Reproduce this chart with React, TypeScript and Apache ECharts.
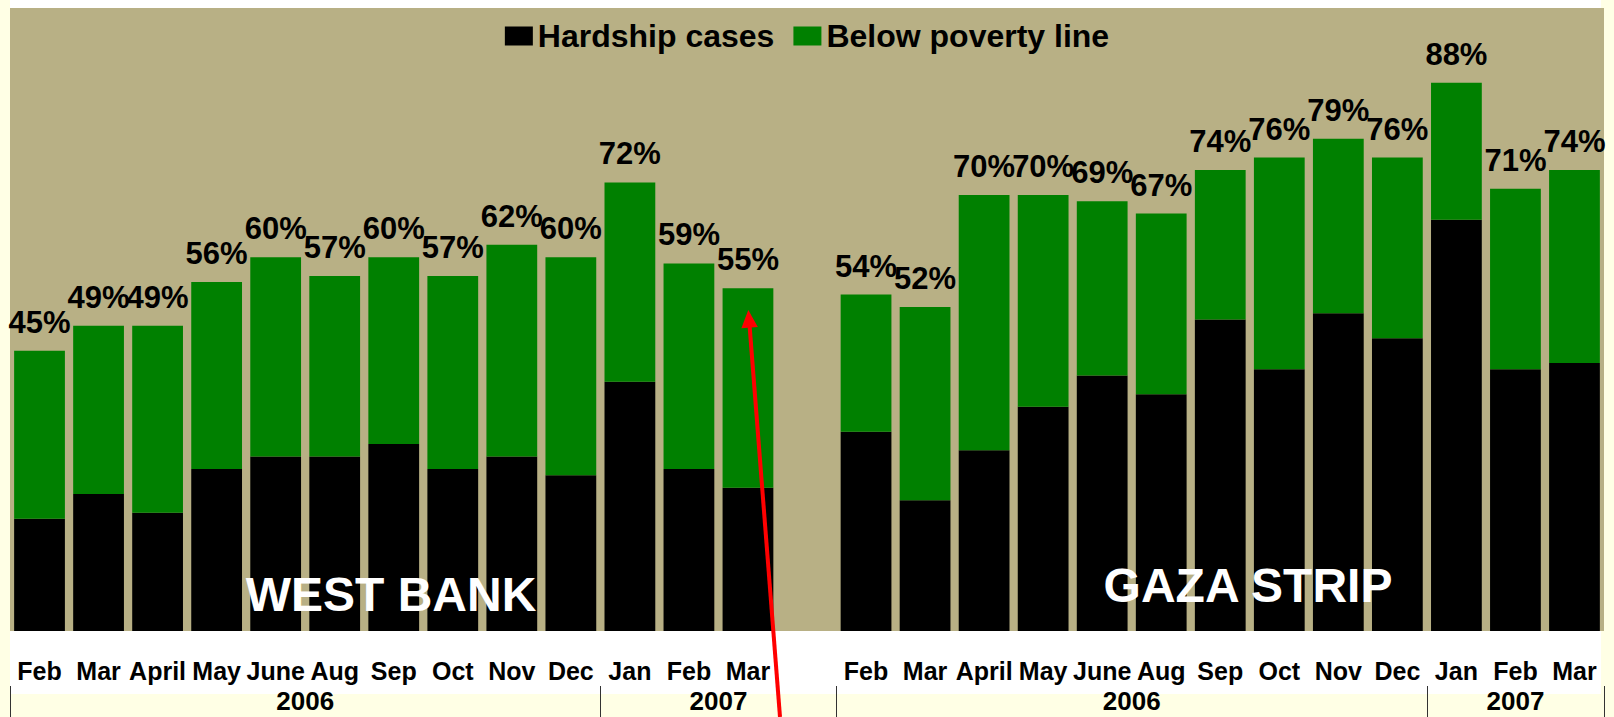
import React, { useEffect, useRef } from 'react';
import * as echarts from 'echarts';

const months = ['Feb', 'Mar', 'April', 'May', 'June', 'Aug', 'Sep', 'Oct', 'Nov', 'Dec', 'Jan', 'Feb', 'Mar'];
const westBankHardship = [18, 22, 19, 26, 28, 28, 30, 26, 28, 25, 40, 26, 23];
const westBankTotal = [45, 49, 49, 56, 60, 57, 60, 57, 62, 60, 72, 59, 55];
const gazaHardship = [32, 21, 29, 36, 41, 38, 50, 42, 51, 47, 66, 42, 43];
const gazaTotal = [54, 52, 70, 70, 69, 67, 74, 76, 79, 76, 88, 71, 74];
const yearLabels = ['2006', '2007', '2006', '2007'];
const yearSpans = [10, 4, 10, 3];
const seriesNames = ['Hardship cases', 'Below poverty line'];

const FONT = '"Liberation Sans", Arial, Helvetica, sans-serif';

export default function App() {
  const ref = useRef<HTMLDivElement>(null);

  useEffect(() => {
    if (!ref.current) return;
    const chart = echarts.init(ref.current, null, { renderer: 'svg' });

    const categories = [...months, '', ...months];
    const hardship: any[] = [...westBankHardship, '-', ...gazaHardship];
    const totals: any[] = [...westBankTotal, '-', ...gazaTotal];
    const below = totals.map((t, i) => (t === '-' ? '-' : t - hardship[i]));

    const bounds: number[] = [0];
    yearSpans.forEach((s) => bounds.push(bounds[bounds.length - 1] + s));
    const centers = yearSpans.map((s, i) => bounds[i] + s / 2);
    const nCat = bounds[bounds.length - 1];

    const option: any = {
      animation: false,
      backgroundColor: '#FFFFE5',
      textStyle: { fontFamily: FONT },
      grid: { left: 10, right: 10, top: 8, bottom: 86, containLabel: false, outerBoundsMode: 'none' },
      legend: {
        data: seriesNames,
        left: 'center',
        top: 15,
        icon: 'rect',
        itemWidth: 28,
        itemHeight: 19,
        itemGap: 19,
        textStyle: { fontSize: 32, fontWeight: 'bold', color: '#000', fontFamily: FONT },
      },
      xAxis: [
        {
          type: 'category',
          data: categories,
          position: 'bottom',
          axisLine: { show: false },
          axisTick: { show: false },
          axisLabel: {
            interval: 0,
            margin: 27,
            fontSize: 25,
            fontWeight: 'bold',
            color: '#000',
            fontFamily: FONT,
          },
        },
        {
          type: 'value',
          min: 0,
          max: nCat,
          position: 'bottom',
          offset: 55,
          axisLine: { show: false },
          splitLine: { show: false },
          axisTick: { show: true, customValues: bounds, length: 32, inside: false, lineStyle: { color: '#333', width: 1 } },
          axisLabel: {
            customValues: centers,
            margin: 2,
            fontSize: 26,
            fontWeight: 'bold',
            color: '#000',
            fontFamily: FONT,
            formatter: (v: number) => {
              const i = centers.indexOf(v);
              return i >= 0 ? yearLabels[i] : '';
            },
          },
        },
      ],
      yAxis: { type: 'value', min: 0, max: 100, show: false },
      series: [
        {
          name: seriesNames[0],
          type: 'bar',
          stack: 'total',
          data: hardship,
          barCategoryGap: '14%',
          itemStyle: { color: '#000000' },
          xAxisIndex: 0,
        },
        {
          name: seriesNames[1],
          type: 'bar',
          stack: 'total',
          data: below,
          barCategoryGap: '14%',
          itemStyle: { color: '#008000' },
          xAxisIndex: 0,
          label: {
            show: true,
            position: 'top',
            distance: 13,
            fontSize: 31,
            fontWeight: 'bold',
            color: '#000',
            fontFamily: FONT,
            formatter: (p: any) => totals[p.dataIndex] + '%',
          },
        },
      ],
      graphic: [
        { type: 'rect', z: -2, silent: true, shape: { x: 10, y: 0, width: 1591, height: 694 }, style: { fill: '#FFFFFF' } },
        { type: 'rect', z: -1, silent: true, shape: { x: 10, y: 8, width: 1594, height: 623 }, style: { fill: '#B8B085' } },
        {
          type: 'text', z: 10, x: 391, y: 594,
          style: { text: 'WEST BANK', fill: '#FFFFFF', font: `bold 48px ${FONT}`, textAlign: 'center', textVerticalAlign: 'middle' },
        },
        {
          type: 'text', z: 10, x: 1248, y: 585,
          style: { text: 'GAZA STRIP', fill: '#FFFFFF', font: `bold 48px ${FONT}`, textAlign: 'center', textVerticalAlign: 'middle' },
        },
        {
          type: 'line', z: 20, silent: true,
          shape: { x1: 780, y1: 717, x2: 749.6, y2: 326 },
          style: { stroke: '#FF0000', lineWidth: 4 },
        },
        {
          type: 'polygon', z: 20, silent: true,
          shape: { points: [[748.3, 310], [757.8, 327], [741.4, 328.2]] },
          style: { fill: '#FF0000' },
        },
      ],
    };

    chart.setOption(option);
    return () => chart.dispose();
  }, []);

  return (
    <div
      ref={ref}
      style={{ position: 'fixed', left: 0, top: 0, width: 1614, height: 717 }}
    />
  );
}
